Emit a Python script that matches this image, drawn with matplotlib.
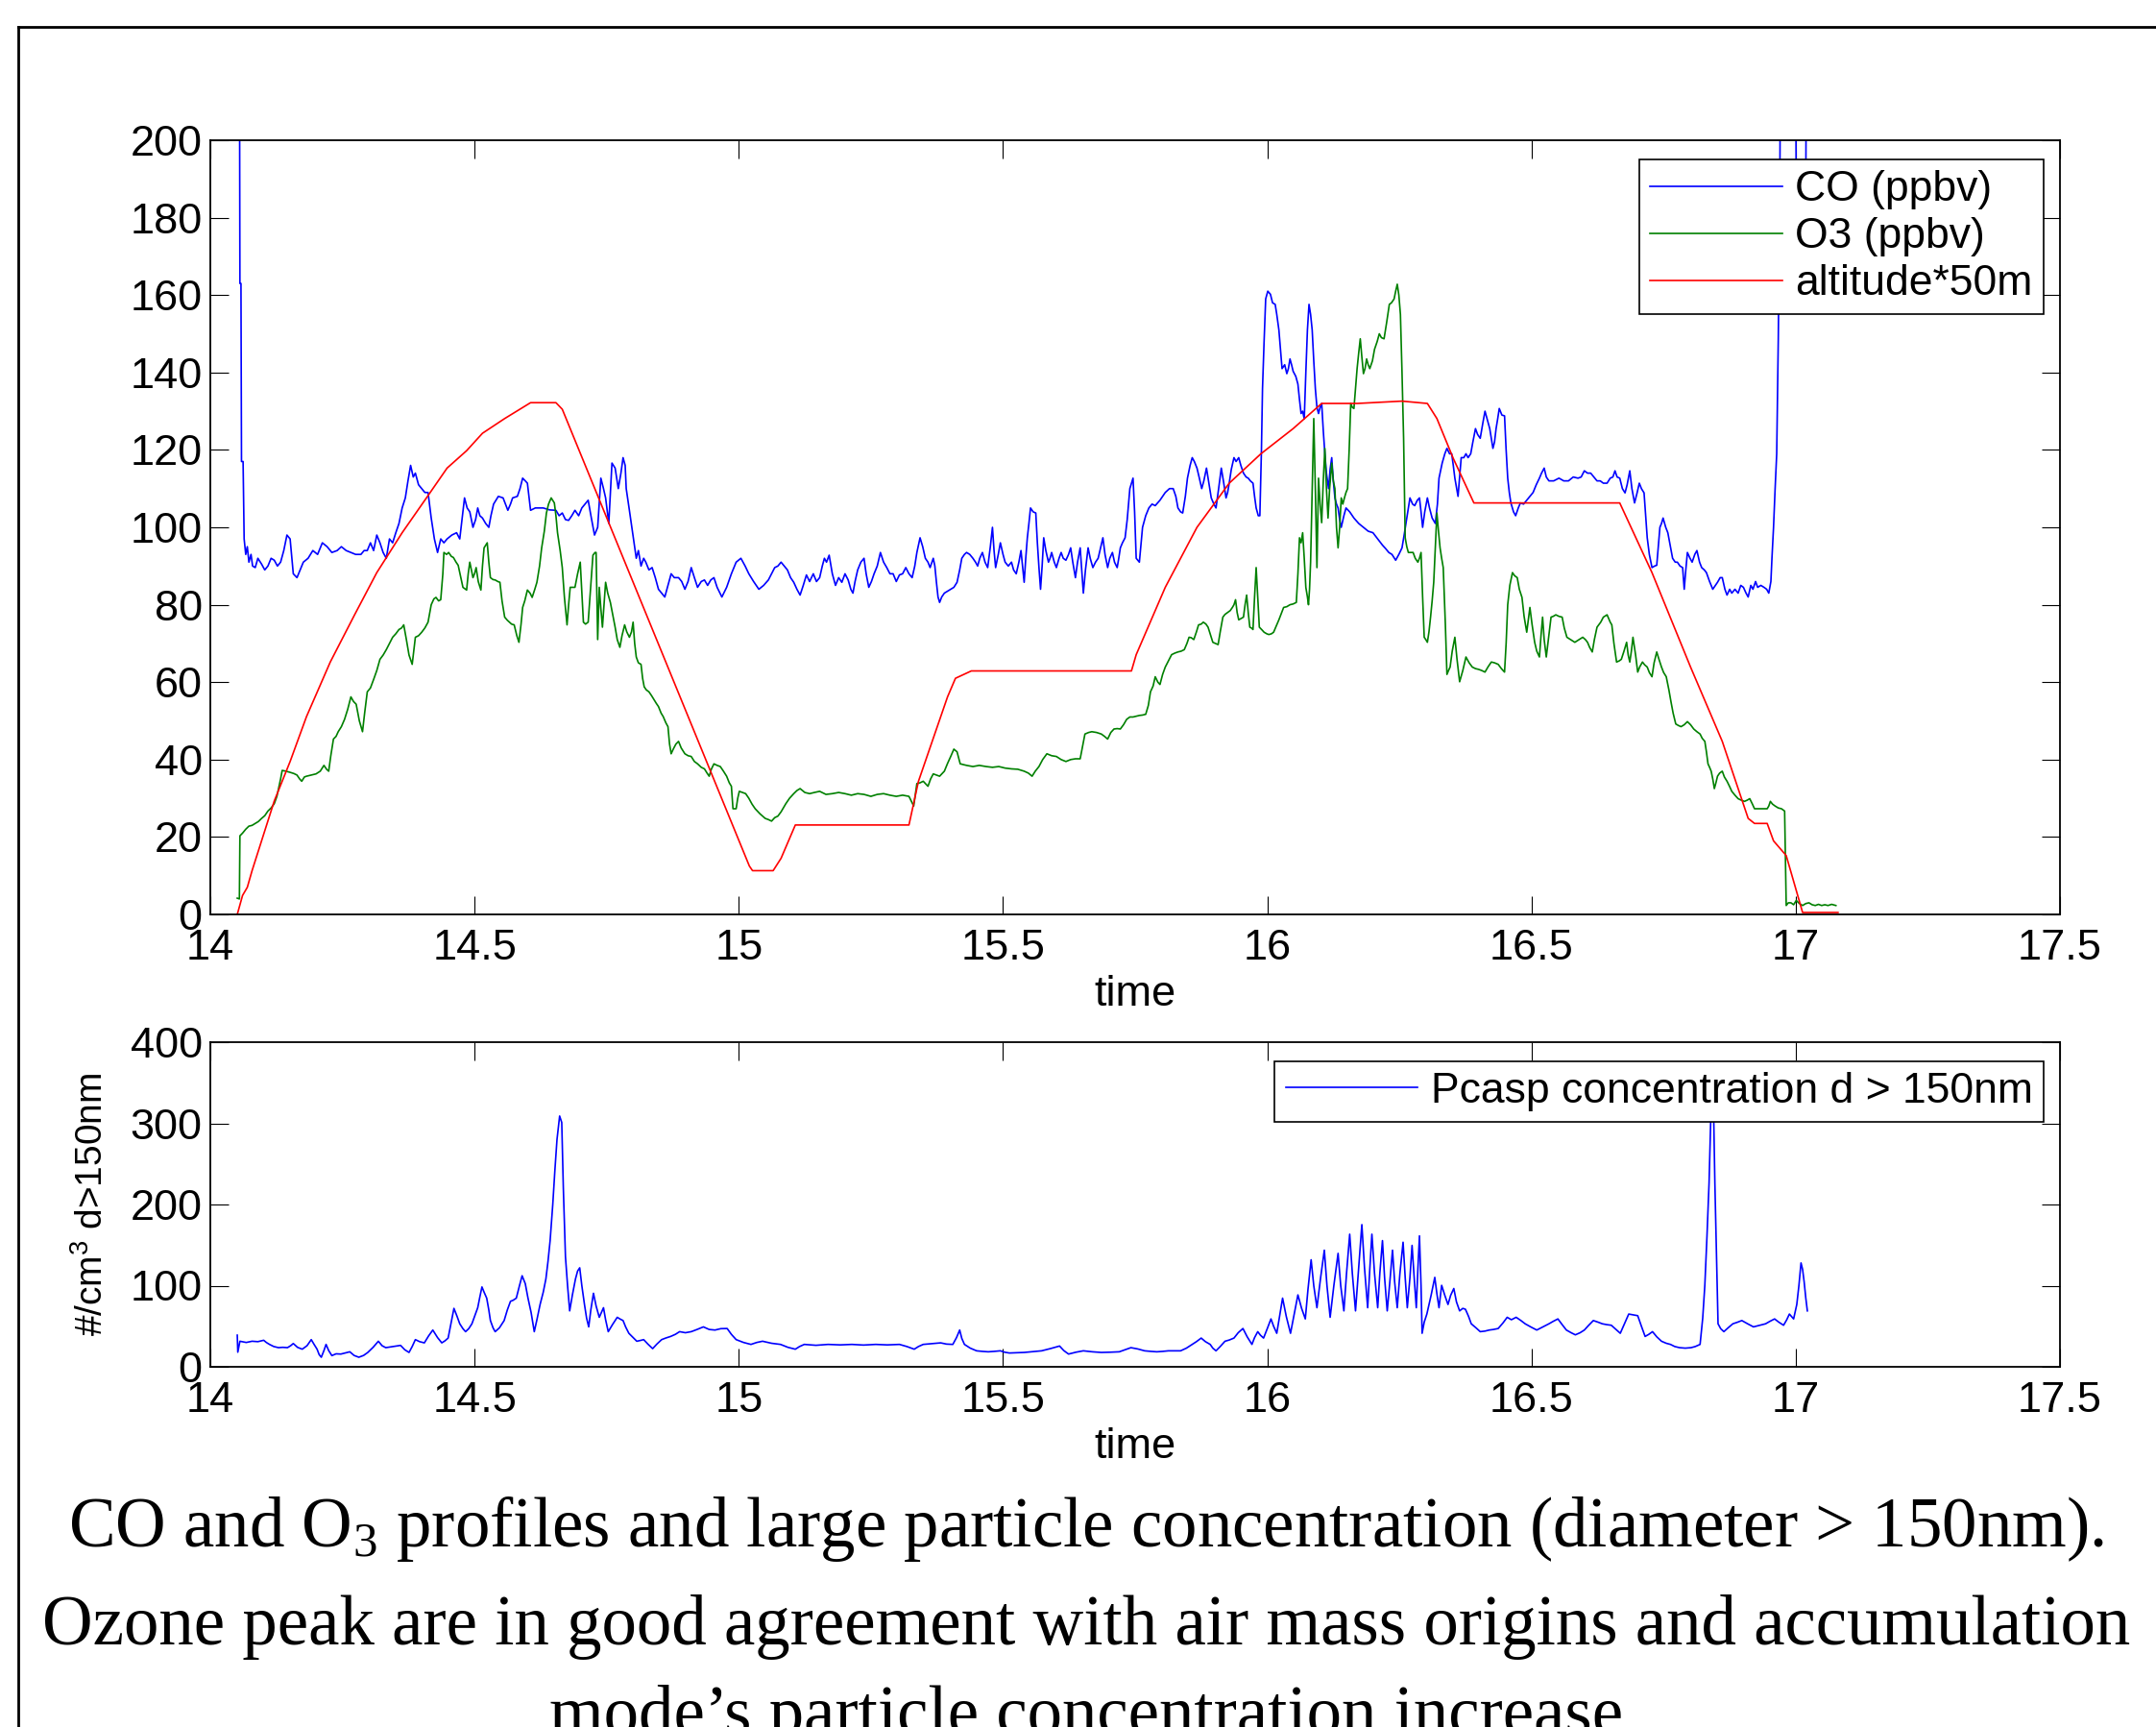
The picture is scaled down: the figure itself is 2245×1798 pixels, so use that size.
import matplotlib
matplotlib.use('Agg')
import matplotlib.pyplot as plt
from matplotlib.lines import Line2D

plt.rcParams['font.family'] = ['Liberation Sans', 'DejaVu Sans']
plt.rcParams['mathtext.default'] = 'regular'

# CO (ppbv)
co_time = [14.055, 14.056, 14.058, 14.059, 14.062, 14.064, 14.067, 14.070, 14.073, 14.077, 14.080, 14.085, 14.090, 14.097, 14.103, 14.109, 14.115, 14.121, 14.127, 14.133, 14.139, 14.145, 14.151, 14.157, 14.164, 14.170, 14.176, 14.185, 14.194, 14.203, 14.212, 14.221, 14.230, 14.240, 14.248, 14.257, 14.266, 14.275, 14.285, 14.291, 14.297, 14.303, 14.309, 14.315, 14.321, 14.327, 14.333, 14.339, 14.345, 14.351, 14.357, 14.363, 14.369, 14.374, 14.379, 14.384, 14.388, 14.394, 14.400, 14.406, 14.412, 14.418, 14.424, 14.430, 14.436, 14.442, 14.448, 14.457, 14.466, 14.472, 14.477, 14.481, 14.486, 14.491, 14.497, 14.502, 14.506, 14.510, 14.515, 14.521, 14.527, 14.531, 14.536, 14.545, 14.554, 14.563, 14.568, 14.572, 14.581, 14.586, 14.591, 14.596, 14.600, 14.606, 14.615, 14.630, 14.642, 14.654, 14.660, 14.666, 14.672, 14.678, 14.684, 14.690, 14.697, 14.703, 14.709, 14.715, 14.721, 14.727, 14.733, 14.739, 14.744, 14.748, 14.754, 14.760, 14.766, 14.772, 14.777, 14.781, 14.785, 14.787, 14.793, 14.799, 14.806, 14.810, 14.815, 14.820, 14.824, 14.830, 14.836, 14.842, 14.848, 14.854, 14.860, 14.866, 14.872, 14.878, 14.886, 14.892, 14.898, 14.904, 14.910, 14.916, 14.922, 14.929, 14.935, 14.941, 14.947, 14.953, 14.959, 14.968, 14.977, 14.986, 14.995, 15.004, 15.012, 15.019, 15.028, 15.038, 15.047, 15.056, 15.062, 15.068, 15.074, 15.080, 15.086, 15.092, 15.098, 15.104, 15.110, 15.116, 15.122, 15.128, 15.134, 15.141, 15.147, 15.153, 15.158, 15.162, 15.166, 15.171, 15.177, 15.183, 15.189, 15.195, 15.201, 15.207, 15.212, 15.216, 15.220, 15.225, 15.231, 15.237, 15.241, 15.246, 15.251, 15.256, 15.262, 15.268, 15.274, 15.280, 15.286, 15.292, 15.298, 15.304, 15.310, 15.316, 15.322, 15.328, 15.333, 15.337, 15.343, 15.348, 15.353, 15.358, 15.362, 15.368, 15.371, 15.374, 15.377, 15.380, 15.384, 15.389, 15.395, 15.401, 15.407, 15.413, 15.418, 15.422, 15.427, 15.431, 15.437, 15.443, 15.448, 15.452, 15.456, 15.461, 15.466, 15.471, 15.476, 15.480, 15.483, 15.486, 15.491, 15.495, 15.500, 15.504, 15.510, 15.516, 15.520, 15.525, 15.530, 15.534, 15.537, 15.540, 15.543, 15.546, 15.549, 15.552, 15.557, 15.562, 15.565, 15.568, 15.571, 15.574, 15.577, 15.581, 15.586, 15.589, 15.592, 15.597, 15.601, 15.606, 15.610, 15.614, 15.619, 15.624, 15.628, 15.632, 15.637, 15.641, 15.646, 15.649, 15.652, 15.656, 15.661, 15.665, 15.670, 15.675, 15.680, 15.685, 15.689, 15.693, 15.698, 15.702, 15.707, 15.711, 15.716, 15.719, 15.722, 15.726, 15.731, 15.735, 15.740, 15.746, 15.749, 15.752, 15.758, 15.764, 15.770, 15.776, 15.782, 15.788, 15.797, 15.807, 15.815, 15.822, 15.827, 15.831, 15.836, 15.840, 15.845, 15.849, 15.854, 15.858, 15.862, 15.867, 15.871, 15.876, 15.880, 15.885, 15.890, 15.894, 15.899, 15.903, 15.908, 15.913, 15.917, 15.922, 15.925, 15.928, 15.932, 15.937, 15.941, 15.946, 15.950, 15.955, 15.960, 15.964, 15.968, 15.973, 15.976, 15.979, 15.983, 15.986, 15.989, 15.991, 15.994, 15.997, 16.001, 16.006, 16.010, 16.015, 16.018, 16.022, 16.025, 16.028, 16.033, 16.037, 16.040, 16.043, 16.046, 16.049, 16.054, 16.058, 16.061, 16.064, 16.067, 16.070, 16.073, 16.076, 16.079, 16.082, 16.085, 16.088, 16.091, 16.094, 16.097, 16.100, 16.103, 16.106, 16.109, 16.112, 16.116, 16.119, 16.122, 16.125, 16.128, 16.131, 16.134, 16.137, 16.140, 16.145, 16.149, 16.156, 16.164, 16.173, 16.182, 16.191, 16.200, 16.209, 16.218, 16.224, 16.230, 16.236, 16.243, 16.249, 16.255, 16.259, 16.264, 16.270, 16.275, 16.279, 16.284, 16.288, 16.291, 16.294, 16.298, 16.303, 16.307, 16.312, 16.318, 16.322, 16.325, 16.331, 16.336, 16.340, 16.345, 16.349, 16.352, 16.355, 16.361, 16.364, 16.367, 16.372, 16.376, 16.380, 16.385, 16.389, 16.394, 16.398, 16.403, 16.408, 16.412, 16.416, 16.421, 16.427, 16.430, 16.433, 16.436, 16.439, 16.444, 16.449, 16.452, 16.455, 16.458, 16.461, 16.466, 16.470, 16.475, 16.479, 16.485, 16.491, 16.497, 16.503, 16.509, 16.515, 16.519, 16.524, 16.528, 16.533, 16.542, 16.552, 16.561, 16.570, 16.579, 16.588, 16.594, 16.600, 16.606, 16.612, 16.618, 16.624, 16.630, 16.636, 16.643, 16.649, 16.654, 16.658, 16.662, 16.667, 16.672, 16.677, 16.681, 16.686, 16.690, 16.695, 16.700, 16.704, 16.708, 16.713, 16.716, 16.719, 16.723, 16.728, 16.733, 16.737, 16.740, 16.743, 16.746, 16.749, 16.754, 16.758, 16.763, 16.767, 16.772, 16.776, 16.781, 16.786, 16.789, 16.792, 16.795, 16.800, 16.804, 16.809, 16.813, 16.818, 16.822, 16.827, 16.831, 16.837, 16.843, 16.848, 16.852, 16.857, 16.861, 16.866, 16.870, 16.875, 16.879, 16.885, 16.891, 16.896, 16.901, 16.906, 16.910, 16.915, 16.919, 16.924, 16.928, 16.934, 16.940, 16.945, 16.949, 16.953, 16.955, 16.958, 16.961, 16.964, 16.967, 16.970, 16.972, 16.999, 17.001, 17.010, 17.019, 17.021, 17.025]
co_ppbv = [240, 163, 163, 117, 117, 97, 93, 95, 91, 93, 90, 89.6, 92, 90.5, 89, 90, 92, 91.5, 90, 91, 94, 98, 97, 88, 87, 89, 91, 92, 94, 93, 96, 95, 93.5, 94, 95, 94, 93.5, 93, 93, 94, 94, 96, 94, 98, 96, 93.5, 92, 97, 96, 98.6, 101, 105, 107.6, 112, 116, 113, 114, 111, 110, 109, 109, 102.4, 97, 93.5, 97, 96, 97, 98, 98.6, 97, 103, 107.6, 105, 104, 100, 102, 105, 103, 102.4, 101, 100, 103, 106, 108, 107.6, 104.4, 106, 107.6, 108, 110, 112.7, 112, 111.4, 104.4, 105, 105, 104.5, 104.4, 103, 103.7, 102, 101.8, 103, 104.4, 103, 105, 106, 107, 102.4, 98, 100, 112.7, 110, 107.6, 101, 116.6, 115.3, 110, 114, 118, 116, 110, 104.4, 98.6, 92, 94, 90, 92, 91, 89, 89.6, 87, 84, 83, 82, 85, 88, 87, 87, 86, 84, 86, 89.6, 87, 84.5, 86, 86.4, 85, 86.4, 87, 84.5, 82, 84.5, 88, 91, 92, 90, 88, 86, 84, 85, 86.4, 88, 89.6, 90, 91, 90, 89, 87, 85.8, 84, 82.5, 85, 87.7, 86, 88, 86, 87, 90, 92, 91, 92.8, 88, 85, 87, 85.8, 88, 86.4, 84, 83, 86, 89, 91, 92, 88, 84.5, 86, 88, 90, 93.5, 91, 89.6, 88, 88, 86, 87.7, 88, 89.6, 88, 87, 90, 93.5, 97.3, 95, 92, 91, 89.6, 92, 90, 85.8, 82, 80.6, 82, 83, 83.5, 84, 84.5, 85.8, 89, 92, 93, 93.5, 93, 92, 91, 90, 92, 93.5, 91, 89.6, 95, 100, 94, 89.6, 93, 96, 93, 91, 90, 91, 89, 88, 91, 94, 90, 85.8, 92, 97.3, 101, 105, 104, 103.7, 96, 89.6, 84, 90, 97.3, 94, 91, 92, 93.5, 91, 89.6, 92, 93.5, 92, 91.5, 93, 94.7, 91, 87, 91, 94.7, 89, 83, 89, 94.7, 92, 89.6, 91, 92, 95, 97.3, 93, 89.6, 92, 93.5, 91, 89.6, 92, 94.7, 96, 97.3, 102, 110, 112.7, 104, 92, 91, 100, 103, 105, 106, 105.6, 107, 109, 110, 110, 108, 105, 104, 103.7, 108, 112.7, 116, 118, 117, 115.3, 113, 110, 112, 115.3, 111, 107.6, 106, 105, 110, 115.3, 112, 107.6, 109, 111.4, 115, 118, 117, 118, 116, 114, 113, 112.7, 112, 111.4, 108, 105, 103, 103, 120, 135.8, 148, 159, 161, 160.2, 158, 157.6, 155, 151, 146, 141, 142, 139.7, 141, 143.5, 142, 140.3, 139, 137, 133, 129.4, 130, 128, 140, 151, 157.6, 155, 151, 143, 135.8, 131, 129.4, 131, 132, 125, 119, 114, 110, 115, 118, 112, 107.6, 106, 105, 102, 100, 103, 105, 104, 102.4, 101, 100, 99, 98.6, 97, 95.4, 94.5, 93.5, 93, 91.5, 93, 94.7, 98, 102.4, 107.6, 106, 105.6, 107, 107.6, 104, 100, 104, 107.6, 105, 102.4, 101, 106, 112.7, 116.6, 119, 120.4, 119, 119, 116, 112.7, 108, 113, 118, 118, 119, 118, 119, 122, 125.5, 124, 123, 127, 130, 128, 125.5, 120.4, 122, 125.5, 128, 130.7, 129, 128.8, 120, 112.7, 109, 106.3, 104, 103, 105, 106.3, 106, 107, 108, 109, 111, 112.7, 114, 115.3, 113, 112, 112, 112.7, 112, 112, 113, 112.7, 113, 114.6, 114, 114, 113, 112, 112, 111.4, 111.4, 112.7, 113, 114.6, 113, 112.7, 110, 108.9, 111, 114.6, 110, 106.3, 109, 111.4, 110, 108.9, 103, 97.3, 93, 89.6, 90, 90.2, 95, 100, 101, 102.4, 100, 98.6, 95, 92, 91, 91, 90, 89.6, 84, 89, 93.5, 92, 91, 93, 94, 91, 89.6, 89, 88.3, 86, 84, 85, 85.8, 87, 87, 84, 82.5, 84, 83, 84, 83, 85, 84.5, 83, 82, 85, 84, 86, 84.5, 85, 84.5, 84, 83, 86, 92, 100, 110, 119, 148.7, 190, 250, 250, 185, 183, 186, 250, 250]

# O3 (ppbv)
o3_time = [14.051, 14.055, 14.056, 14.061, 14.067, 14.073, 14.079, 14.085, 14.091, 14.097, 14.103, 14.109, 14.115, 14.121, 14.126, 14.130, 14.133, 14.136, 14.143, 14.151, 14.158, 14.164, 14.169, 14.173, 14.178, 14.182, 14.191, 14.200, 14.208, 14.215, 14.220, 14.224, 14.228, 14.233, 14.238, 14.242, 14.248, 14.254, 14.260, 14.266, 14.271, 14.276, 14.282, 14.288, 14.292, 14.297, 14.303, 14.309, 14.315, 14.321, 14.327, 14.333, 14.339, 14.345, 14.351, 14.357, 14.362, 14.366, 14.371, 14.376, 14.382, 14.385, 14.388, 14.394, 14.400, 14.406, 14.412, 14.418, 14.423, 14.427, 14.432, 14.436, 14.440, 14.442, 14.447, 14.451, 14.456, 14.460, 14.465, 14.469, 14.474, 14.478, 14.485, 14.488, 14.491, 14.494, 14.497, 14.500, 14.503, 14.507, 14.512, 14.515, 14.518, 14.524, 14.527, 14.530, 14.535, 14.539, 14.544, 14.548, 14.552, 14.557, 14.562, 14.566, 14.570, 14.575, 14.580, 14.584, 14.588, 14.591, 14.595, 14.600, 14.605, 14.609, 14.614, 14.618, 14.623, 14.627, 14.632, 14.636, 14.640, 14.645, 14.651, 14.654, 14.657, 14.662, 14.666, 14.670, 14.675, 14.678, 14.681, 14.686, 14.690, 14.695, 14.700, 14.703, 14.706, 14.710, 14.715, 14.720, 14.724, 14.728, 14.730, 14.733, 14.736, 14.739, 14.742, 14.745, 14.748, 14.752, 14.757, 14.762, 14.766, 14.770, 14.775, 14.779, 14.784, 14.788, 14.793, 14.797, 14.800, 14.803, 14.806, 14.810, 14.815, 14.818, 14.821, 14.825, 14.830, 14.835, 14.839, 14.844, 14.848, 14.853, 14.857, 14.862, 14.866, 14.869, 14.872, 14.876, 14.881, 14.886, 14.891, 14.898, 14.904, 14.910, 14.916, 14.922, 14.929, 14.935, 14.940, 14.944, 14.948, 14.953, 14.959, 14.965, 14.971, 14.977, 14.982, 14.986, 14.988, 14.989, 14.995, 14.998, 15.001, 15.007, 15.013, 15.019, 15.025, 15.031, 15.040, 15.050, 15.056, 15.062, 15.068, 15.074, 15.080, 15.089, 15.096, 15.104, 15.110, 15.116, 15.125, 15.134, 15.143, 15.153, 15.165, 15.177, 15.189, 15.201, 15.213, 15.225, 15.237, 15.250, 15.262, 15.274, 15.286, 15.298, 15.310, 15.322, 15.331, 15.337, 15.343, 15.349, 15.358, 15.363, 15.368, 15.374, 15.380, 15.389, 15.395, 15.401, 15.407, 15.413, 15.419, 15.431, 15.443, 15.455, 15.468, 15.480, 15.492, 15.504, 15.516, 15.528, 15.540, 15.548, 15.555, 15.561, 15.568, 15.575, 15.583, 15.592, 15.601, 15.610, 15.619, 15.628, 15.637, 15.646, 15.650, 15.655, 15.662, 15.668, 15.677, 15.686, 15.692, 15.698, 15.704, 15.710, 15.716, 15.722, 15.728, 15.734, 15.740, 15.746, 15.752, 15.758, 15.764, 15.770, 15.775, 15.779, 15.784, 15.788, 15.793, 15.797, 15.802, 15.807, 15.813, 15.819, 15.825, 15.831, 15.837, 15.843, 15.848, 15.852, 15.856, 15.861, 15.866, 15.870, 15.875, 15.879, 15.884, 15.888, 15.893, 15.897, 15.902, 15.907, 15.911, 15.916, 15.920, 15.925, 15.930, 15.934, 15.937, 15.940, 15.943, 15.946, 15.951, 15.955, 15.958, 15.961, 15.964, 15.967, 15.970, 15.973, 15.976, 15.979, 15.982, 15.985, 15.990, 15.994, 15.999, 16.003, 16.008, 16.012, 16.017, 16.022, 16.026, 16.031, 16.037, 16.043, 16.049, 16.055, 16.058, 16.061, 16.064, 16.067, 16.070, 16.073, 16.076, 16.078, 16.080, 16.082, 16.085, 16.088, 16.091, 16.094, 16.097, 16.100, 16.103, 16.106, 16.109, 16.112, 16.115, 16.118, 16.122, 16.125, 16.128, 16.131, 16.134, 16.137, 16.140, 16.143, 16.146, 16.149, 16.152, 16.155, 16.158, 16.161, 16.164, 16.167, 16.170, 16.173, 16.176, 16.179, 16.182, 16.185, 16.188, 16.191, 16.194, 16.199, 16.203, 16.208, 16.212, 16.216, 16.221, 16.226, 16.231, 16.235, 16.240, 16.243, 16.246, 16.249, 16.252, 16.255, 16.258, 16.261, 16.264, 16.267, 16.272, 16.276, 16.280, 16.285, 16.288, 16.291, 16.294, 16.297, 16.300, 16.303, 16.306, 16.309, 16.312, 16.315, 16.318, 16.321, 16.324, 16.327, 16.330, 16.333, 16.337, 16.340, 16.343, 16.346, 16.350, 16.355, 16.359, 16.364, 16.370, 16.376, 16.382, 16.388, 16.394, 16.400, 16.406, 16.412, 16.418, 16.424, 16.430, 16.437, 16.443, 16.449, 16.452, 16.455, 16.459, 16.464, 16.468, 16.473, 16.477, 16.482, 16.486, 16.491, 16.494, 16.497, 16.501, 16.506, 16.510, 16.515, 16.518, 16.521, 16.524, 16.528, 16.532, 16.537, 16.541, 16.546, 16.552, 16.558, 16.562, 16.567, 16.574, 16.582, 16.590, 16.597, 16.602, 16.606, 16.610, 16.615, 16.619, 16.624, 16.631, 16.636, 16.643, 16.649, 16.652, 16.656, 16.661, 16.666, 16.670, 16.675, 16.680, 16.683, 16.686, 16.689, 16.692, 16.697, 16.701, 16.705, 16.710, 16.714, 16.719, 16.723, 16.728, 16.732, 16.737, 16.741, 16.746, 16.750, 16.755, 16.760, 16.764, 16.768, 16.773, 16.778, 16.783, 16.789, 16.795, 16.801, 16.807, 16.813, 16.819, 16.823, 16.828, 16.831, 16.834, 16.837, 16.840, 16.843, 16.846, 16.849, 16.852, 16.856, 16.861, 16.865, 16.870, 16.875, 16.879, 16.885, 16.891, 16.897, 16.903, 16.908, 16.913, 16.918, 16.922, 16.928, 16.934, 16.940, 16.946, 16.949, 16.952, 16.956, 16.961, 16.967, 16.973, 16.979, 16.981, 16.982, 16.986, 16.991, 16.996, 17.001, 17.007, 17.013, 17.019, 17.025, 17.031, 17.037, 17.043, 17.049, 17.055, 17.061, 17.068, 17.076]
o3_ppbv = [4.2, 4, 20.3, 21, 22, 22.8, 23, 23.5, 24, 24.8, 25.5, 26.7, 27.5, 28.6, 30.5, 33, 35, 37.2, 37, 36.7, 36.4, 36, 35, 34.4, 35.5, 35.7, 36, 36.3, 37, 38.5, 37.5, 37, 41, 45.3, 46, 47.2, 48.5, 50.4, 53, 56.2, 55, 54.3, 50, 47.2, 52, 57.5, 58.5, 60.7, 63, 65.9, 67, 68.4, 70, 71.6, 72.5, 73.6, 74, 74.8, 71, 67, 64.6, 68, 71.6, 72, 72.9, 74, 75.5, 80, 81.5, 81.9, 81, 81.3, 88, 93.5, 93, 93.5, 92.5, 92.2, 91, 90.2, 87, 84.5, 83.8, 88, 91, 89, 87, 88, 89.6, 86, 83.8, 90, 94.7, 96, 91, 87, 86.5, 86.4, 86, 85.8, 81, 76.8, 76, 75.5, 75, 74.8, 72, 70.3, 75, 79.3, 81, 83.8, 83, 81.9, 84, 85.8, 90, 94.7, 99, 103.7, 106, 107.6, 106.3, 103, 98.6, 94, 89.6, 82, 74.8, 80, 84.5, 84.5, 84.5, 88, 91, 83, 75.5, 75, 75.5, 85, 92.8, 93.5, 93.5, 71, 84.5, 79, 74.2, 80, 85.8, 83, 80.6, 77, 74.2, 71, 69, 72, 74.8, 73, 71.6, 73, 75.5, 70, 66.5, 65, 64.6, 61, 58.8, 58, 57.5, 56.5, 55.6, 54.5, 53.7, 52, 51.1, 49.5, 48.5, 44, 41.5, 42.7, 44, 44.7, 43, 41.5, 41, 40.8, 39.5, 38.9, 38, 37.6, 36.5, 35.7, 37.5, 38.9, 38.5, 38.2, 37, 35.7, 34, 33.1, 29, 27.3, 27.3, 30, 31.8, 31.5, 31.2, 30, 28.5, 27.3, 26, 24.8, 24.5, 24.1, 25, 25.4, 26.5, 28.6, 30, 31.2, 32, 32.5, 31.5, 31.2, 31.5, 31.8, 31, 31.2, 31.5, 31.2, 30.8, 31.2, 31, 30.5, 31, 31.2, 30.8, 30.5, 30.8, 30.5, 28, 33.8, 34, 34.4, 33.1, 35, 36.3, 36, 35.7, 37, 39, 40.8, 42.7, 42, 38.9, 38.5, 38.2, 38.5, 38.2, 38, 38.2, 37.8, 37.6, 37.5, 37, 36.5, 35.7, 37, 38.2, 40, 41.5, 41, 40.8, 40, 39.5, 40, 40.2, 40.2, 43, 46.6, 47, 47.2, 47, 46.6, 46, 45.3, 47, 47.9, 48, 47.9, 49, 50.4, 51, 51, 51.2, 51.4, 51.5, 51.7, 54, 57.5, 59, 61.4, 60, 59.4, 62, 63.9, 65.5, 67.1, 67.5, 67.8, 68, 68.4, 70, 71.6, 71.5, 71, 73, 74.8, 75, 75.5, 75, 74.2, 72, 70.3, 70, 69.7, 73, 76.8, 77.5, 78, 78.5, 79.3, 80, 81.3, 78, 76.1, 76.5, 76.8, 80, 82.5, 78, 74.2, 74, 73.6, 82, 89.6, 82, 74.2, 73.5, 72.9, 72.5, 72.3, 72.5, 72.9, 74.5, 76.1, 77.5, 79.3, 79.5, 80, 80.2, 80.6, 88, 97.3, 96, 98.6, 92, 84.5, 82, 80, 84, 91, 110, 128.1, 110, 89.6, 112.7, 106, 101.2, 112, 120.4, 110, 102.4, 110, 116.6, 112, 110, 100, 94.7, 100, 107.6, 106, 107.6, 109, 110, 120, 132, 131, 130.7, 136, 141, 145, 148.7, 144, 139.7, 141, 143.5, 142, 141, 143, 146, 148, 150, 149, 148.7, 153, 157.6, 158, 159, 161, 162.8, 160, 155, 140, 123, 97.3, 95, 93.5, 93.5, 93.5, 92, 91, 92, 93.5, 82, 71.6, 71, 70.3, 73, 76.8, 81, 85.8, 95, 103.7, 99, 94.7, 92, 89.6, 75, 62, 63, 63.9, 68, 71.6, 66, 60.1, 63, 66.5, 65, 63.9, 63.5, 63.3, 63, 62.6, 64, 65.2, 65, 64.6, 63.5, 62.6, 70, 80, 85, 88.3, 87.5, 87, 84, 81.9, 77, 72.9, 76, 79.3, 75, 70.3, 68, 66.5, 72, 76.8, 71, 66.5, 71, 76.8, 77, 77.4, 77, 76.8, 74, 71.6, 71, 70.3, 71, 71.6, 71, 70.3, 69, 67.8, 71, 74.2, 75.5, 76.8, 77.4, 75.5, 74.8, 70, 65.2, 65.5, 65.9, 68, 70.3, 67, 65.2, 68, 71.6, 67, 62.6, 64, 65.2, 64.5, 63.9, 62.5, 61.4, 65, 67.8, 66, 63.9, 62.5, 61.4, 58, 54.9, 52, 49.2, 48.8, 48.5, 49, 49.8, 49, 47.9, 47.2, 46.6, 45.5, 44.7, 42, 38.9, 38, 37, 35, 32.5, 34, 35.7, 36.5, 37, 35.5, 34.4, 33, 31.8, 30.8, 29.9, 29.5, 29.2, 29.5, 29.9, 28.5, 27.3, 27.3, 27.3, 27.3, 27.3, 28, 29.2, 28.5, 28, 27.5, 27.3, 26.7, 10, 2.3, 3, 3, 2.5, 3.6, 2.8, 2.3, 2.8, 3, 2.5, 2.3, 2.6, 2.3, 2.5, 2.3, 2.6, 2.3]

# altitude*50m
alt_time = [14.051, 14.061, 14.070, 14.079, 14.121, 14.151, 14.182, 14.227, 14.273, 14.315, 14.363, 14.412, 14.448, 14.485, 14.515, 14.557, 14.606, 14.654, 14.666, 15.020, 15.026, 15.065, 15.080, 15.107, 15.322, 15.340, 15.395, 15.410, 15.440, 15.743, 15.752, 15.807, 15.867, 15.928, 15.988, 16.049, 16.103, 16.170, 16.255, 16.303, 16.321, 16.352, 16.391, 16.667, 16.728, 16.801, 16.861, 16.910, 16.922, 16.946, 16.958, 16.982, 17.013, 17.080]
alt_val = [0, 4.9, 7, 11.3, 29.3, 39.5, 51.1, 65.2, 77.4, 88.3, 98.6, 108.2, 115.3, 119.8, 124.3, 128.1, 132.2, 132.2, 130.5, 12.5, 11.3, 11.3, 14.5, 23.1, 23.1, 34.4, 56.2, 61, 62.9, 62.9, 67.1, 84.5, 100, 111.4, 119, 125.5, 132, 132, 132.6, 132, 128.1, 117.8, 106.3, 106.3, 88.3, 63.9, 44.7, 24.8, 23.5, 23.5, 19, 15.2, 0.5, 0.5]

# Pcasp d > 150nm (#/cm3)
pcasp_time = [14.051, 14.052, 14.056, 14.068, 14.079, 14.090, 14.101, 14.106, 14.112, 14.120, 14.129, 14.137, 14.146, 14.152, 14.157, 14.165, 14.174, 14.183, 14.191, 14.196, 14.202, 14.206, 14.210, 14.215, 14.219, 14.224, 14.230, 14.238, 14.247, 14.255, 14.264, 14.272, 14.281, 14.290, 14.298, 14.308, 14.318, 14.325, 14.332, 14.346, 14.360, 14.368, 14.376, 14.382, 14.388, 14.396, 14.405, 14.413, 14.421, 14.430, 14.438, 14.444, 14.450, 14.456, 14.461, 14.467, 14.472, 14.478, 14.483, 14.489, 14.495, 14.500, 14.506, 14.510, 14.514, 14.518, 14.523, 14.527, 14.530, 14.535, 14.539, 14.547, 14.556, 14.562, 14.568, 14.573, 14.579, 14.585, 14.590, 14.596, 14.601, 14.607, 14.613, 14.618, 14.624, 14.630, 14.635, 14.639, 14.643, 14.648, 14.652, 14.656, 14.661, 14.665, 14.668, 14.672, 14.676, 14.680, 14.685, 14.691, 14.695, 14.699, 14.703, 14.708, 14.712, 14.716, 14.720, 14.725, 14.730, 14.736, 14.740, 14.744, 14.748, 14.753, 14.761, 14.770, 14.775, 14.781, 14.786, 14.792, 14.800, 14.807, 14.814, 14.820, 14.828, 14.837, 14.845, 14.854, 14.862, 14.871, 14.880, 14.888, 14.899, 14.910, 14.921, 14.933, 14.944, 14.955, 14.966, 14.978, 14.986, 14.995, 15.009, 15.023, 15.034, 15.045, 15.062, 15.079, 15.093, 15.107, 15.115, 15.124, 15.146, 15.169, 15.192, 15.214, 15.236, 15.259, 15.281, 15.304, 15.318, 15.332, 15.340, 15.349, 15.365, 15.382, 15.393, 15.405, 15.412, 15.418, 15.422, 15.427, 15.438, 15.450, 15.461, 15.472, 15.483, 15.495, 15.503, 15.512, 15.526, 15.540, 15.556, 15.573, 15.590, 15.607, 15.615, 15.624, 15.638, 15.652, 15.669, 15.686, 15.703, 15.720, 15.731, 15.742, 15.755, 15.768, 15.780, 15.791, 15.802, 15.813, 15.825, 15.836, 15.847, 15.858, 15.866, 15.875, 15.883, 15.892, 15.897, 15.903, 15.911, 15.920, 15.928, 15.937, 15.945, 15.954, 15.962, 15.971, 15.976, 15.982, 15.987, 15.993, 16.000, 16.007, 16.012, 16.018, 16.024, 16.029, 16.036, 16.044, 16.051, 16.058, 16.065, 16.072, 16.077, 16.083, 16.088, 16.094, 16.101, 16.108, 16.113, 16.119, 16.126, 16.134, 16.139, 16.145, 16.150, 16.156, 16.161, 16.167, 16.173, 16.179, 16.184, 16.190, 16.194, 16.198, 16.203, 16.209, 16.213, 16.218, 16.222, 16.227, 16.232, 16.237, 16.241, 16.246, 16.251, 16.257, 16.261, 16.265, 16.270, 16.274, 16.278, 16.282, 16.285, 16.288, 16.291, 16.293, 16.297, 16.302, 16.310, 16.317, 16.321, 16.325, 16.330, 16.336, 16.342, 16.347, 16.353, 16.358, 16.364, 16.370, 16.375, 16.381, 16.386, 16.395, 16.403, 16.412, 16.420, 16.428, 16.437, 16.446, 16.454, 16.462, 16.471, 16.480, 16.488, 16.499, 16.510, 16.521, 16.533, 16.541, 16.550, 16.558, 16.566, 16.575, 16.583, 16.592, 16.600, 16.608, 16.617, 16.626, 16.634, 16.642, 16.651, 16.660, 16.668, 16.676, 16.684, 16.693, 16.701, 16.708, 16.715, 16.722, 16.729, 16.737, 16.746, 16.755, 16.763, 16.771, 16.780, 16.791, 16.802, 16.810, 16.819, 16.824, 16.828, 16.832, 16.836, 16.839, 16.842, 16.845, 16.847, 16.850, 16.853, 16.858, 16.864, 16.872, 16.881, 16.890, 16.898, 16.909, 16.920, 16.931, 16.943, 16.951, 16.960, 16.968, 16.977, 16.983, 16.988, 16.992, 16.996, 17.002, 17.006, 17.010, 17.013, 17.016, 17.019, 17.022]
pcasp_val = [39, 18, 31.5, 30, 31.5, 31, 32.7, 30, 27.6, 25, 23.6, 24, 23.6, 26, 28.7, 24, 21.7, 26, 33.5, 28, 21.7, 15, 11.8, 20, 27.6, 20, 13.8, 16, 15.7, 17, 18.5, 14, 11.8, 14, 17.7, 24, 31.5, 26, 23.6, 25, 26.4, 21, 17.7, 25, 33.5, 31, 29.5, 38, 45.3, 36, 29.5, 32, 35.4, 55, 72, 62, 53, 47, 43.3, 47, 53, 62, 72.8, 86, 98.4, 92, 84.6, 70, 57, 48, 43.3, 48, 57, 70, 80.7, 82, 84.6, 100, 112.2, 102.4, 85, 67, 43.3, 58, 76.8, 92, 108.3, 130, 155.5, 200, 242, 280, 309, 301, 220, 135.8, 100, 68.9, 88, 108.3, 118, 122, 100, 76.8, 60, 49.2, 70, 90.6, 75, 61, 67, 72.8, 58, 43.3, 52, 61, 59, 57, 49, 41.3, 36, 31.5, 32.5, 33.5, 28, 22.4, 28, 33.5, 35.5, 37.4, 40, 43.3, 42, 43.3, 46, 49.2, 46, 45.3, 47, 47.2, 40, 33.5, 30, 27.6, 30, 31.5, 29, 27.6, 24, 21.7, 25, 27.6, 26.5, 27.6, 27, 27.6, 26.8, 27.6, 27, 27.6, 25, 21.7, 25, 27.6, 28.5, 29.5, 28, 27.6, 36, 45.3, 35, 27.6, 23, 19.7, 19, 18.5, 19, 19.7, 18, 17, 17.3, 17.7, 18.7, 19.7, 22.5, 25.6, 20, 15.7, 18, 19.7, 18.5, 17.7, 18, 18.5, 21, 23.6, 22, 19.7, 19, 18.5, 19, 19.7, 19.7, 19.7, 23, 27.6, 31, 35.4, 31, 27.6, 23, 19.7, 25, 31.5, 33, 35.4, 42, 47.2, 37, 27.6, 36, 43.3, 39, 35.4, 47, 59, 50, 41.3, 65, 84.6, 62, 41.3, 65, 88.6, 72, 59, 95, 131.9, 100, 72.8, 110, 143.7, 100, 61, 100, 139.8, 100, 68.9, 115, 163.4, 115, 68.9, 122, 175.2, 122, 72.8, 120, 163.4, 115, 72.8, 115, 155.5, 110, 68.9, 105, 143.7, 105, 72.8, 115, 153.5, 110, 72.8, 110, 149.6, 110, 72.8, 120, 161.4, 100, 41.3, 55, 65, 88, 110.2, 90, 72.8, 100.4, 88, 76.8, 88, 96.5, 80, 68.9, 72, 70.9, 62, 53, 48, 43.3, 44, 45.3, 46, 47.2, 54, 61, 58, 61, 57, 53, 49, 45.3, 49, 53, 56, 59, 52, 45.3, 42, 39.4, 42, 45.3, 51, 57, 55, 53, 52, 51.2, 46, 41.3, 53, 65, 64, 63, 50, 37.4, 40, 43.3, 37, 31.5, 29, 27.6, 25, 23.6, 23, 23.6, 25, 27.6, 60, 100.4, 160, 226.4, 300, 330, 300, 226.4, 140, 53, 47, 43.3, 48, 53, 55, 57, 53, 49.2, 51, 53, 56, 59, 55, 51.2, 58, 65, 62, 59, 76.8, 100, 128, 120, 104.3, 85, 68.9]

x_ticks = [14, 14.5, 15, 15.5, 16, 16.5, 17, 17.5]
top_yticks = [0, 20, 40, 60, 80, 100, 120, 140, 160, 180, 200]
bottom_yticks = [0, 100, 200, 300, 400]

W, H = 2245, 1798
fig = plt.figure(figsize=(W / 100, H / 100), dpi=100)
fs = 32.5   # etiquettes des graduations
lfs = 32    # legendes

def style_axes(ax):
    ax.set_xlim(14, 17.5)
    ax.set_xticks(x_ticks)
    ax.set_xticklabels(['%g' % v for v in x_ticks])
    ax.tick_params(direction='in', top=True, right=True, length=13.5, width=0.8,
                   labelsize=fs)
    ax.tick_params(axis='x', pad=11)
    ax.tick_params(axis='y', pad=6)
    for s in ax.spines.values():
        s.set_linewidth(1.3)
    ax.set_xlabel('time', fontsize=fs, labelpad=5)

def make_legend(ax, anchor, spacing):
    leg = ax.legend(loc='upper right', bbox_to_anchor=anchor, borderaxespad=0,
                    fontsize=lfs, handlelength=3.1, handletextpad=0.3, borderpad=0.25,
                    labelspacing=spacing, fancybox=False, framealpha=1,
                    edgecolor='black')
    leg.get_frame().set_linewidth(1.2)
    return leg

# panneau du haut
ax1 = fig.add_axes([219 / W, 1 - 952 / H, (2145 - 219) / W, (952 - 146) / H])
ax1.plot(co_time, co_ppbv, color='blue', lw=1.2, label='CO (ppbv)')
ax1.plot(o3_time, o3_ppbv, color=(0, 0.5, 0), lw=1.2, label='O3 (ppbv)')
ax1.plot(alt_time, alt_val, color='red', lw=1.2, label='altitude*50m')
ax1.set_ylim(0, 200)
ax1.set_yticks(top_yticks)
style_axes(ax1)
make_legend(ax1, (0.991, 0.975), 0.18)

# panneau du bas
ax2 = fig.add_axes([219 / W, 1 - 1423 / H, (2145 - 219) / W, (1423 - 1085) / H])
ax2.plot(pcasp_time, pcasp_val, color='blue', lw=1.2,
         label='Pcasp concentration d > 150nm')
ax2.set_ylim(0, 400)
ax2.set_yticks(bottom_yticks)
style_axes(ax2)
ax2.set_ylabel('#/cm$^3$ d>150nm', fontsize=28)
ax2.yaxis.set_label_coords((115 - 219) / (2145 - 219), 0.5)
make_legend(ax2, (0.991, 0.941), 0.18)

# cadre de la diapositive
fx = 19 / W
fy = 1 - 28 / H
fig.add_artist(Line2D([fx, fx], [0, fy], transform=fig.transFigure, color='black', lw=2))
fig.add_artist(Line2D([fx, 1], [fy, fy], transform=fig.transFigure, color='black', lw=2))

# legende de la figure
cap = dict(ha='center', va='baseline', fontsize=52.5, family=['Liberation Serif', 'DejaVu Serif'])
fig.text(1131 / W, 1 - 1610 / H,
         'CO and O$_3$ profiles and large particle concentration (diameter > 150nm).', **cap)
fig.text(1131 / W, 1 - 1712 / H,
         'Ozone peak are in good agreement with air mass origins and accumulation', **cap)
fig.text(1131 / W, 1 - 1806 / H, 'mode\u2019s particle concentration increase', **cap)

fig.savefig('out.png', dpi=100)
